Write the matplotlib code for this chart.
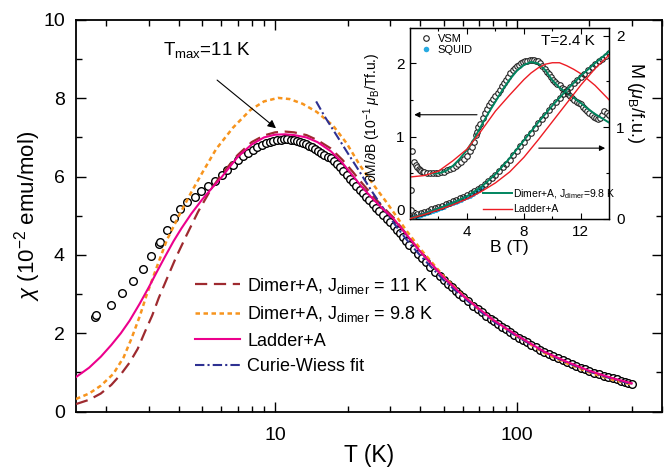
import matplotlib
matplotlib.use('Agg')
import matplotlib.pyplot as plt
from matplotlib.lines import Line2D

plt.rcParams['font.family'] = ['Liberation Sans', 'DejaVu Sans']
plt.rcParams['mathtext.fontset'] = 'custom'
plt.rcParams['mathtext.rm'] = 'Liberation Sans'
plt.rcParams['mathtext.it'] = 'Liberation Sans:italic'
plt.rcParams['mathtext.bf'] = 'Liberation Sans:bold'

# ---- main panel: chi(T) ----
t_data = [1.79, 1.81, 2.09, 2.33, 2.57, 2.84, 3.07, 3.32, 3.35, 3.56, 3.80, 4.04, 4.34, 4.66,
          4.96, 5.29, 5.63, 6.01, 6.35, 6.7, 7.05, 7.4, 7.75, 8.1, 8.45, 8.8, 9.15, 9.5, 9.85,
          10.2, 10.55, 10.9, 11.25, 11.6, 11.95, 12.3, 12.65, 13.0, 13.4, 13.8, 14.2, 14.6,
          15.0, 15.5, 16.0, 16.5, 17.0, 17.5, 18.0, 18.6, 19.2, 19.8, 20.4, 21.0, 21.7, 22.4,
          23.1, 23.8, 24.6, 25.4, 26.2, 27.0, 28.0, 29.0, 30.0, 31.0, 32.0, 33.0, 34.0, 35.0,
          36.0, 37.5, 39.0, 40.5, 42, 44, 46, 48, 50, 52, 54, 56, 58, 60, 63, 66, 69, 72, 75,
          78, 81, 84, 87, 90, 94, 98, 102, 106, 110, 115, 120, 125, 130, 136, 142, 148, 155,
          162, 169, 176, 184, 192, 200, 210, 220, 230, 240, 250, 260, 270, 280, 290, 300]
chi_data = [2.42, 2.47, 2.71, 3.03, 3.33, 3.65, 3.97, 4.28, 4.33, 4.63, 4.93, 5.16, 5.34, 5.48,
            5.62, 5.76, 5.90, 6.04, 6.17, 6.30, 6.42, 6.52, 6.61, 6.69, 6.75, 6.81, 6.85, 6.88,
            6.90, 6.93, 6.94, 6.95, 6.95, 6.94, 6.93, 6.91, 6.89, 6.86, 6.83, 6.79, 6.75, 6.71,
            6.66, 6.61, 6.55, 6.49, 6.47, 6.40, 6.33, 6.24, 6.14, 6.05, 5.95, 5.86, 5.76, 5.67,
            5.57, 5.48, 5.39, 5.30, 5.21, 5.12, 5.02, 4.92, 4.83, 4.74, 4.64, 4.55, 4.46, 4.35,
            4.26, 4.14, 4.03, 3.92, 3.82, 3.69, 3.57, 3.46, 3.36, 3.26, 3.17, 3.08, 3.00, 2.92,
            2.81, 2.70, 2.61, 2.53, 2.45, 2.37, 2.30, 2.24, 2.17, 2.11, 2.04, 1.96, 1.89, 1.83,
            1.77, 1.70, 1.64, 1.58, 1.53, 1.47, 1.41, 1.36, 1.31, 1.26, 1.21, 1.17, 1.12, 1.08,
            1.04, 0.99, 0.95, 0.91, 0.88, 0.85, 0.82, 0.79, 0.76, 0.73, 0.71]

t_dimer11 = [1.5, 1.7, 1.9, 2.1, 2.3, 2.5, 2.7, 2.9, 3.1, 3.3, 3.6, 3.9, 4.3, 4.8, 5.4, 6.0, 7.0,
             8.0, 9.0, 10, 11, 12, 13.5, 15, 17, 19, 21, 23, 25.5, 28, 31, 35, 40, 50, 60, 70,
             80, 100, 130, 160, 200, 250, 300]
chi_dimer11 = [0.19, 0.30, 0.46, 0.68, 0.95, 1.25, 1.60, 2.05, 2.45, 2.90, 3.45, 3.95, 4.50,
               5.10, 5.65, 6.05, 6.55, 6.88, 7.05, 7.13, 7.15, 7.13, 7.06, 6.93, 6.72, 6.43,
               6.12, 5.82, 5.50, 5.22, 4.95, 4.53, 4.08, 3.42, 2.96, 2.60, 2.33, 1.94, 1.52,
               1.27, 1.03, 0.84, 0.71]

t_dimer98 = [1.5, 1.7, 1.9, 2.14, 2.36, 2.54, 2.76, 2.93, 3.24, 3.56, 4.0, 4.5, 5.0, 5.7, 6.7,
             7.9, 9.0, 10.3, 11.5, 13, 14.9, 17.4, 19.8, 22.4, 25.5, 28.9, 35, 40, 50, 60, 70,
             80, 100, 130, 160, 200, 250, 300]
chi_dimer98 = [0.32, 0.46, 0.66, 0.96, 1.38, 1.85, 2.45, 2.95, 3.69, 4.37, 5.00, 5.60, 6.10,
               6.70, 7.25, 7.70, 7.92, 8.01, 7.98, 7.86, 7.65, 7.30, 6.85, 6.30, 5.80, 5.35,
               4.62, 4.15, 3.45, 2.97, 2.61, 2.33, 1.93, 1.50, 1.24, 1.00, 0.81, 0.69]

t_ladder = [1.5, 1.7, 1.9, 2.1, 2.3, 2.5, 2.75, 3.0, 3.25, 3.5, 3.8, 4.1, 4.5, 5.0, 5.5, 6.0,
            7.0, 8.0, 9.0, 10, 11, 12, 13.5, 15, 17, 19, 21, 23, 25.5, 28, 31, 35, 40, 50, 60,
            70, 80, 100, 130, 160, 200, 250, 300]
chi_ladder = [0.88, 1.12, 1.40, 1.70, 2.00, 2.32, 2.75, 3.17, 3.58, 3.95, 4.35, 4.68, 5.05,
              5.42, 5.72, 5.98, 6.50, 6.82, 7.00, 7.07, 7.08, 7.06, 7.00, 6.88, 6.65, 6.35,
              6.02, 5.72, 5.42, 5.17, 4.92, 4.52, 4.08, 3.42, 2.96, 2.62, 2.34, 1.95, 1.53,
              1.28, 1.04, 0.85, 0.72]

t_cw = [14.8, 16, 18, 20, 22, 25, 28, 32, 36, 40, 50, 60, 70, 80, 100, 130, 160, 200, 250, 300]
chi_cw = [7.92, 7.55, 7.05, 6.60, 6.20, 5.65, 5.20, 4.70, 4.30, 3.98, 3.35, 2.92, 2.58, 2.31,
          1.92, 1.52, 1.26, 1.02, 0.83, 0.70]

# ---- inset: dM/dB (left axis) and M (right axis) at T = 2.4 K ----
b_vsm_d = [0.05, 0.08, 0.15, 0.3, 0.4, 0.5, 0.6, 0.7, 0.8, 0.9, 1.0, 1.2, 1.4, 1.6, 1.8, 2.0,
           2.2, 2.4, 2.6, 2.8, 3.0, 3.2, 3.4, 3.6, 3.8, 4.0, 4.2, 4.35, 4.5, 4.6, 4.7, 4.8,
           4.95, 5.1, 5.25, 5.4, 5.55, 5.7, 5.85, 6.0, 6.15, 6.3, 6.45, 6.6, 6.75, 6.9, 7.05,
           7.2, 7.35, 7.5, 7.65, 7.8, 7.95, 8.1, 8.25, 8.4, 8.55, 8.7, 8.85, 9.0, 9.15, 9.3,
           9.45, 9.6, 9.75, 9.9, 10.05, 10.2, 10.35, 10.5, 10.65, 10.8, 10.95, 11.1, 11.25,
           11.4, 11.55, 11.7, 11.85, 12.0, 12.15, 12.3, 12.45, 12.6, 12.75, 12.9, 13.05, 13.2,
           13.35, 13.5, 13.65, 13.8, 13.95]
dmdb_vsm = [0.0, 0.27, 0.80, 0.66, 0.62, 0.58, 0.56, 0.54, 0.53, 0.52, 0.52, 0.51, 0.50, 0.50,
            0.50, 0.51, 0.52, 0.52, 0.54, 0.56, 0.57, 0.60, 0.63, 0.66, 0.70, 0.74, 0.80, 0.86,
            0.93, 1.02, 1.07, 1.13, 1.18, 1.25, 1.32, 1.38, 1.43, 1.47, 1.52, 1.56, 1.60, 1.64,
            1.69, 1.73, 1.77, 1.82, 1.87, 1.91, 1.94, 1.96, 1.98, 2.00, 2.02, 2.03, 2.04, 2.05,
            2.05, 2.05, 2.04, 2.03, 2.01, 1.97, 1.93, 1.89, 1.85, 1.81, 1.78, 1.75, 1.72, 1.70,
            1.67, 1.65, 1.62, 1.59, 1.56, 1.53, 1.50, 1.48, 1.46, 1.44, 1.41, 1.38, 1.35, 1.32,
            1.29, 1.27, 1.25, 1.24, 1.25, 1.30, 1.35, 1.33, 1.30]

b_fit_green_d = [1.5, 2, 2.5, 3, 3.5, 4, 4.5, 5, 5.5, 6, 6.5, 7, 7.5, 8, 8.5, 9, 9.5, 10, 10.5,
                 11, 11.5, 12, 12.5, 13, 13.5, 14]
dmdb_green = [0.50, 0.50, 0.53, 0.60, 0.70, 0.82, 0.97, 1.15, 1.32, 1.48, 1.64, 1.78, 1.90,
              1.98, 2.02, 2.00, 1.91, 1.77, 1.67, 1.60, 1.53, 1.46, 1.38, 1.31, 1.25, 1.19]

b_fit_red_d = [0, 1, 2, 3, 4, 5, 6, 7, 8, 8.5, 9, 9.5, 10, 10.5, 11, 11.5, 12, 13, 14]
dmdb_red = [0.45, 0.47, 0.53, 0.67, 0.83, 1.08, 1.35, 1.57, 1.78, 1.87, 1.94, 1.99, 2.01, 2.01,
            1.97, 1.92, 1.86, 1.70, 1.50]

b_vsm_m = [0, 0.25, 0.5, 0.75, 1.0, 1.25, 1.5, 1.75, 2.0, 2.25, 2.5, 2.75, 3.0, 3.25, 3.5,
           3.75, 4.0, 4.25, 4.5, 4.75, 5.0, 5.25, 5.5, 5.75, 6.0, 6.25, 6.5, 6.75, 7.0, 7.25,
           7.5, 7.75, 8.0, 8.25, 8.5, 8.75, 9.0, 9.25, 9.5, 9.75, 10.0, 10.25, 10.5, 10.75,
           11.0, 11.25, 11.5, 11.75, 12.0, 12.25, 12.5, 12.75, 13.0, 13.25, 13.5, 13.75, 14.0]
m_vsm = [0.020, 0.032, 0.045, 0.059, 0.073, 0.086, 0.100, 0.114, 0.128, 0.142, 0.157, 0.172,
         0.188, 0.204, 0.220, 0.237, 0.255, 0.277, 0.300, 0.325, 0.350, 0.379, 0.410, 0.444,
         0.480, 0.519, 0.560, 0.602, 0.645, 0.692, 0.740, 0.790, 0.840, 0.890, 0.940, 0.990,
         1.040, 1.088, 1.135, 1.183, 1.230, 1.275, 1.320, 1.360, 1.400, 1.440, 1.480, 1.515,
         1.550, 1.585, 1.620, 1.652, 1.685, 1.718, 1.750, 1.780, 1.810]

b_squid = [0, 0.2, 0.4, 0.6, 0.8, 1.0, 1.2, 1.4, 1.6, 1.8, 2.0, 2.2, 2.4, 2.6, 2.8, 3.0, 3.2,
           3.4, 3.6, 3.8, 4.0, 4.2, 4.4, 4.6, 4.8, 5.0]
m_squid = [0.005, 0.012, 0.022, 0.032, 0.043, 0.054, 0.065, 0.076, 0.087, 0.098, 0.109, 0.120,
           0.131, 0.143, 0.155, 0.167, 0.180, 0.193, 0.207, 0.221, 0.236, 0.252, 0.269, 0.288,
           0.308, 0.330]

b_fit_m = [0, 1, 2, 3, 4, 5, 6, 7, 8, 9, 10, 11, 12, 13, 14]
m_green = [0.0, 0.05, 0.11, 0.17, 0.245, 0.345, 0.485, 0.66, 0.855, 1.05, 1.235, 1.405, 1.56,
           1.70, 1.83]
m_red = [0.0, 0.045, 0.095, 0.15, 0.215, 0.295, 0.39, 0.51, 0.67, 0.86, 1.06, 1.26, 1.46,
         1.64, 1.79]

c_dimer11 = '#9E2A2F'
c_dimer98 = '#F7941D'
c_ladder = '#EC008C'
c_cw = '#2E3192'
c_green = '#00855F'
c_red = '#ED1C24'
c_squid = '#27AAE1'

fig = plt.figure(figsize=(6.68, 4.68), dpi=100)
ax = fig.add_axes([0.1138, 0.1207, 0.8772, 0.8366])

ax.plot(t_data, chi_data, 'o', mfc='white', mec='black', ms=5.5, mew=1.0, zorder=2)
ax.plot(t_dimer11, chi_dimer11, color=c_dimer11, lw=1.6, dashes=(5.5, 3),
        label=r'Dimer+A, J$_{\rm dimer}$ = 11 K', zorder=3)
ax.plot(t_dimer98, chi_dimer98, color=c_dimer98, lw=1.8, dashes=(1.8, 1.4),
        label=r'Dimer+A, J$_{\rm dimer}$ = 9.8 K', zorder=3)
ax.plot(t_ladder, chi_ladder, color=c_ladder, lw=1.5, label='Ladder+A', zorder=4)
ax.plot(t_cw, chi_cw, color=c_cw, lw=1.5, dashes=(4.5, 1.5, 1, 1.5),
        label='Curie-Wiess fit', zorder=3)

ax.set_xscale('log')
ax.set_xlim(1.5, 400)
ax.set_ylim(0, 10)
ax.set_xticks([10, 100])
ax.set_xticklabels(['10', '100'])
ax.xaxis.set_minor_formatter(matplotlib.ticker.NullFormatter())
ax.set_yticks([0, 2, 4, 6, 8, 10])
ax.set_yticks([1, 3, 5, 7, 9], minor=True)
ax.tick_params(which='both', direction='in', top=True, right=True, width=1.0)
ax.tick_params(which='major', length=7, labelsize=14)
ax.tick_params(axis='x', which='major', pad=11)
ax.tick_params(axis='y', which='major', pad=8)
ax.tick_params(which='minor', length=4)
for s in ax.spines.values():
    s.set_linewidth(1.3)

ax.set_xlabel('T (K)', fontsize=16.5, labelpad=0)
ax.set_ylabel(r'$\chi$ (10$^{-2}$ emu/mol)', fontsize=16, labelpad=0)

ax.legend(loc='upper left', bbox_to_anchor=(0.203, 0.347), frameon=False, fontsize=13,
          handlelength=2.5, handletextpad=0.4, labelspacing=0.47, borderpad=0,
          borderaxespad=0)

ax.annotate('', xy=(10.3, 7.19), xytext=(5.64, 8.51),
            arrowprops=dict(arrowstyle='-|>', color='black', lw=0.8, mutation_scale=12))
ax.text(3.44, 9.1, r'T$_{\rm max}$=11 K', fontsize=13.5, ha='left', va='baseline')

# ---- inset ----
ax2 = fig.add_axes([0.6138, 0.531, 0.2984, 0.4085])
ax2.set_facecolor('white')
ax2.plot(b_vsm_d, dmdb_vsm, 'o', mfc='white', mec='#222222', ms=4, mew=0.8, zorder=2)
ax2.plot(b_fit_green_d, dmdb_green, color=c_green, lw=1.4, zorder=3)
ax2.plot(b_fit_red_d, dmdb_red, color=c_red, lw=1.0, zorder=3)
ax2.set_xlim(0, 14)
ax2.set_ylim(-0.13, 2.48)
ax2.set_xticks([4, 8, 12])
ax2.set_xticks([2, 6, 10], minor=True)
ax2.set_yticks([0, 1, 2])
ax2.set_yticks([0.5, 1.5], minor=True)
ax2.tick_params(which='both', direction='in', top=True, right=False, width=0.8)
ax2.tick_params(which='major', length=4, labelsize=11, pad=4)
ax2.tick_params(which='minor', length=2.5)
ax2.set_xlabel('B (T)', fontsize=12.5, labelpad=1)
ax2.set_ylabel(r'$\partial$M/$\partial$B (10$^{-1}$ $\mu_{\rm B}$/Tf.u.)', fontsize=10)
ax2.yaxis.set_label_coords(-0.135, 0.533)
ax2.annotate('', xy=(0.1, 1.30), xytext=(4.9, 1.30),
             arrowprops=dict(arrowstyle='-|>', color='black', lw=0.8, mutation_scale=8))

ax3 = ax2.twinx()
ax3.plot(b_squid, m_squid, 'o', color=c_squid, ms=3.5, mew=0, zorder=2)
ax3.plot(b_vsm_m, m_vsm, 'o', mfc='none', mec='#222222', ms=4, mew=0.8, zorder=3)
ax3.plot(b_fit_m, m_green, color=c_green, lw=1.4, zorder=4)
ax3.plot(b_fit_m, m_red, color=c_red, lw=1.0, zorder=4)
ax3.set_ylim(-0.01, 2.08)
ax3.set_yticks([0, 1, 2])
ax3.set_yticks([0.5, 1.5], minor=True)
ax3.tick_params(which='both', direction='in', width=0.8)
ax3.tick_params(which='major', length=4, labelsize=11, pad=5)
ax3.tick_params(which='minor', length=2.5)
ax3.set_ylabel(r'M ($\mu_{\rm B}$/f.u.)', fontsize=13, rotation=270, va='center')
ax3.yaxis.set_label_coords(1.129, 0.61)
ax3.annotate('', xy=(13.9, 0.77), xytext=(8.85, 0.77),
             arrowprops=dict(arrowstyle='-|>', color='black', lw=0.8, mutation_scale=8))
for a in (ax2, ax3):
    for s in a.spines.values():
        s.set_linewidth(0.9)

h_top = [Line2D([], [], ls='none', marker='o', mfc='white', mec='#222222', ms=4, mew=0.8),
         Line2D([], [], ls='none', marker='o', color=c_squid, ms=4, mew=0)]
leg1 = ax3.legend(h_top, ['VSM', 'SQUID'], loc='upper left', bbox_to_anchor=(0.045, 0.97),
                  frameon=False, fontsize=8, handlelength=1.2, handletextpad=0.5,
                  labelspacing=0.12, borderpad=0, borderaxespad=0)
ax3.add_artist(leg1)
h_bot = [Line2D([], [], color=c_green, lw=1.4), Line2D([], [], color=c_red, lw=1.0)]
ax3.legend(h_bot, [r'Dimer+A, J$_{\rm dimer}$=9.8 K', 'Ladder+A'], loc='upper left',
           bbox_to_anchor=(0.366, 0.17), frameon=False, fontsize=7.5, handlelength=2.75,
           handletextpad=0.15, labelspacing=0.35, borderpad=0, borderaxespad=0)
ax3.text(0.928, 0.935, 'T=2.4 K', transform=ax3.transAxes, fontsize=11, ha='right',
         va='center')

fig.savefig('out.png', dpi=100)
